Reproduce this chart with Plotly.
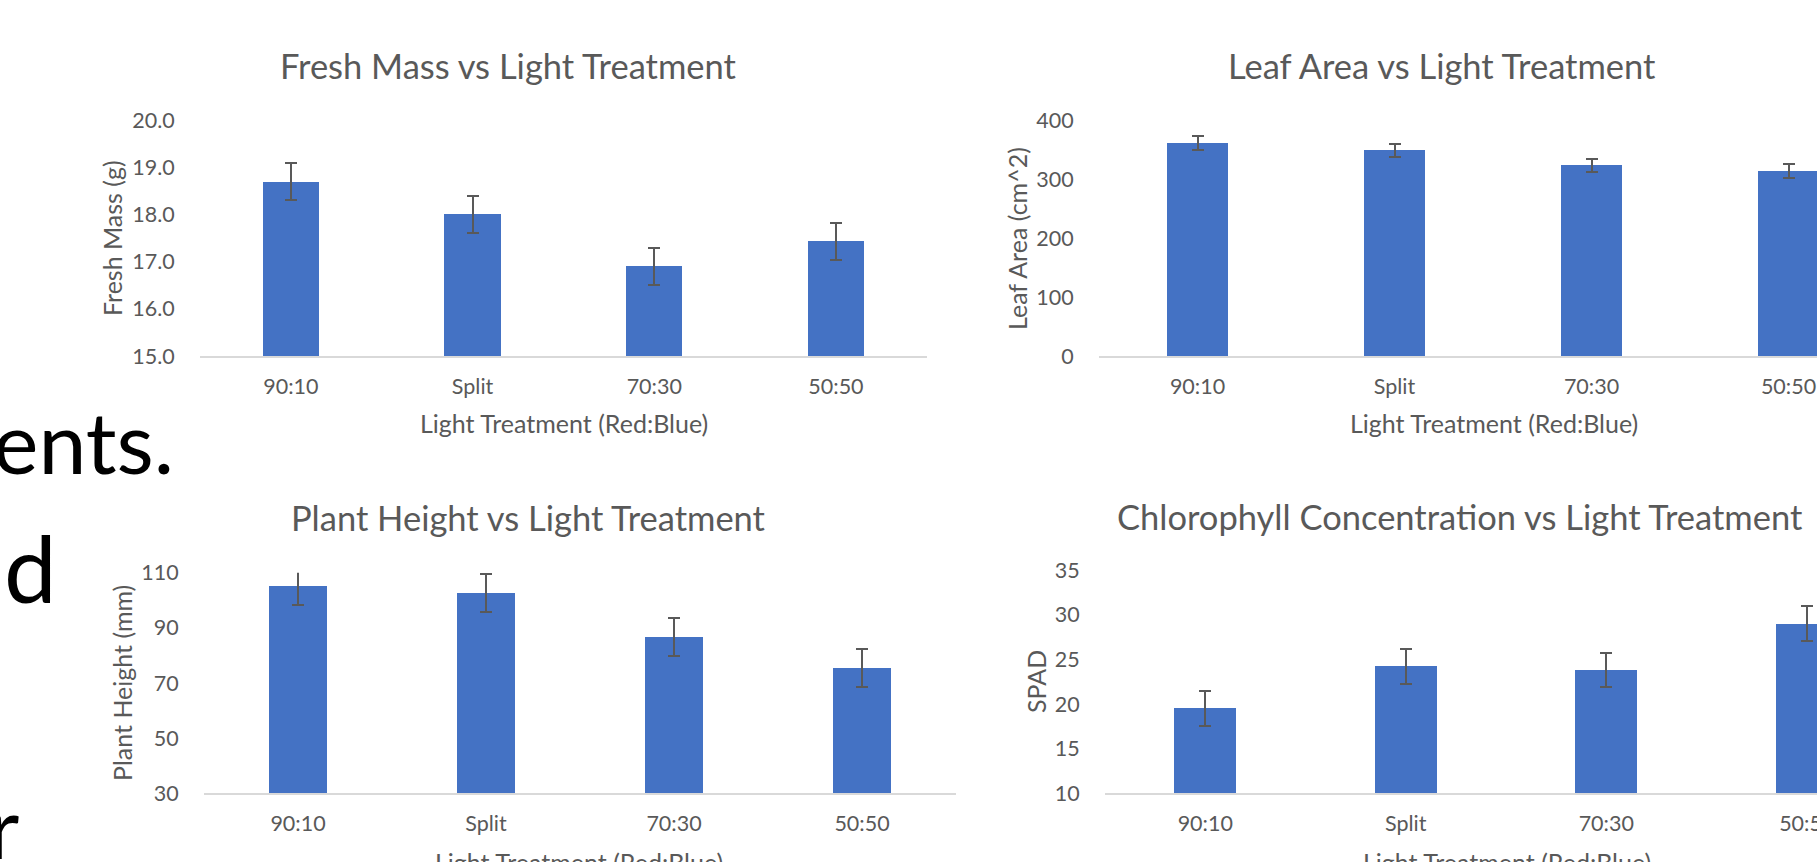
import plotly.graph_objects as go

# ---------------- data ----------------
categories = ["90:10", "Split", "70:30", "50:50"]

fresh_mass = [18.69, 18.00, 16.90, 17.43]
fresh_mass_err = [0.39, 0.39, 0.39, 0.39]

leaf_area = [361.5, 348.6, 323.2, 313.6]
leaf_area_err = [11.5, 11.0, 11.5, 11.5]

plant_height = [105.2, 102.6, 86.7, 75.4]
plant_height_err = [6.9, 7.0, 7.0, 7.0]

spad = [19.5, 24.2, 23.8, 29.0]
spad_err = [1.95, 1.95, 1.95, 1.95]

titles = ["Fresh Mass vs Light Treatment", "Leaf Area vs Light Treatment",
          "Plant Height vs Light Treatment", "Chlorophyll Concentration vs Light Treatment"]
y_titles = ["Fresh Mass (g)", "Leaf Area (cm^2)", "Plant Height (mm)", "SPAD"]
x_title = "Light Treatment (Red:Blue)"

y_ticks_fm = [15, 16, 17, 18, 19, 20]
y_ticks_la = [0, 100, 200, 300, 400]
y_ticks_ph = [30, 50, 70, 90, 110]
y_ticks_sp = [10, 15, 20, 25, 30, 35]

slide_words = ["ents.", "d", "r"]

# ---------------- styling / layout ----------------
W, H = 1817, 862
BAR = "#4472C4"
GREY = "#595959"
AXIS = "#D9D9D9"
FONT = "Lato, Calibri, Open Sans, sans-serif"

panels = [
    dict(l=200, r=927, t=120, b=356, cat=181.7, yr=[15, 20], ticks=y_ticks_fm, fmt=".1f",
         vals=fresh_mass, err=fresh_mass_err,
         title_xy=(508, 66), ytitle_xy=(112, 238), xtitle_xy=(564, 423)),
    dict(l=1099, r=1887, t=120, b=356, cat=197.0, yr=[0, 400], ticks=y_ticks_la, fmt="d",
         vals=leaf_area, err=leaf_area_err,
         title_xy=(1442, 66), ytitle_xy=(1017, 238), xtitle_xy=(1494, 423)),
    dict(l=204, r=956, t=572.7, b=793.3, cat=188.0, yr=[30, 110], ticks=y_ticks_ph, fmt="d",
         vals=plant_height, err=plant_height_err,
         title_xy=(528, 517), ytitle_xy=(122, 683), xtitle_xy=(579, 862)),
    dict(l=1105, r=1907, t=570, b=793.3, cat=200.5, yr=[10, 35], ticks=y_ticks_sp, fmt="d",
         vals=spad, err=spad_err,
         title_xy=(1460, 516), ytitle_xy=(1036, 682), xtitle_xy=(1507, 862)),
]

fig = go.Figure()
layout = dict(
    width=W, height=H,
    margin=dict(l=0, r=0, t=0, b=0, autoexpand=False),
    paper_bgcolor="white", plot_bgcolor="rgba(0,0,0,0)",
    showlegend=False,
    font=dict(family=FONT, color=GREY),
    bargap=0,
)
annotations = []

for i, p in enumerate(panels):
    n = "" if i == 0 else str(i + 1)
    right = min(p["r"], W)
    xr = [-0.5, -0.5 + (right - p["l"]) / p["cat"]]
    fig.add_trace(go.Bar(
        x=categories, y=p["vals"], width=0.31,
        marker=dict(color=BAR, line=dict(width=0)),
        error_y=dict(type="data", array=p["err"], visible=True,
                     color=GREY, thickness=2, width=6),
        xaxis="x" + n, yaxis="y" + n,
    ))
    layout["xaxis" + n] = dict(
        domain=[p["l"] / W, right / W], anchor="y" + n,
        range=xr, type="category", automargin=False,
        showgrid=False, zeroline=False,
        showline=True, linecolor=AXIS, linewidth=2,
        ticks="outside", ticklen=10, tickcolor="rgba(0,0,0,0)",
        tickfont=dict(size=21.5, color=GREY, family=FONT),
        fixedrange=True,
    )
    layout["yaxis" + n] = dict(
        domain=[1 - p["b"] / H, 1 - p["t"] / H], anchor="x" + n,
        range=p["yr"], tickvals=p["ticks"], tickformat=p["fmt"], automargin=False,
        showgrid=False, zeroline=False, showline=False,
        ticks="outside", ticklen=20, tickcolor="rgba(0,0,0,0)",
        tickfont=dict(size=21.5, color=GREY, family=FONT),
        fixedrange=True,
    )
    tx, ty = p["title_xy"]
    annotations.append(dict(text=titles[i], x=tx / W, y=1 - ty / H, xref="paper", yref="paper",
                            xanchor="center", yanchor="middle", showarrow=False,
                            font=dict(size=34.5, color=GREY, family=FONT)))
    yx, yy = p["ytitle_xy"]
    annotations.append(dict(text=y_titles[i], x=yx / W, y=1 - yy / H, xref="paper", yref="paper",
                            xanchor="center", yanchor="middle", textangle=-90, showarrow=False,
                            font=dict(size=25, color=GREY, family=FONT)))
    xx, xy = p["xtitle_xy"]
    annotations.append(dict(text=x_title, x=xx / W, y=1 - xy / H, xref="paper", yref="paper",
                            xanchor="center", yanchor="middle", showarrow=False,
                            font=dict(size=25, color=GREY, family=FONT)))

# slide body text partially visible behind the charts
slide_pos = [(176, 440, 86), (59, 566, 94), (21, 825, 86)]
for txt, (rx, cy, fs) in zip(slide_words, slide_pos):
    annotations.append(dict(text=txt, x=rx / W, y=1 - cy / H, xref="paper", yref="paper",
                            xanchor="right", yanchor="middle", showarrow=False,
                            font=dict(size=fs, color="black", family=FONT)))

layout["annotations"] = annotations
fig.update_layout(**layout)
fig.write_html(
    "out.html",
    config={"displayModeBar": False},
    post_script="document.body.style.margin='0';document.documentElement.style.overflow='hidden';",
)
